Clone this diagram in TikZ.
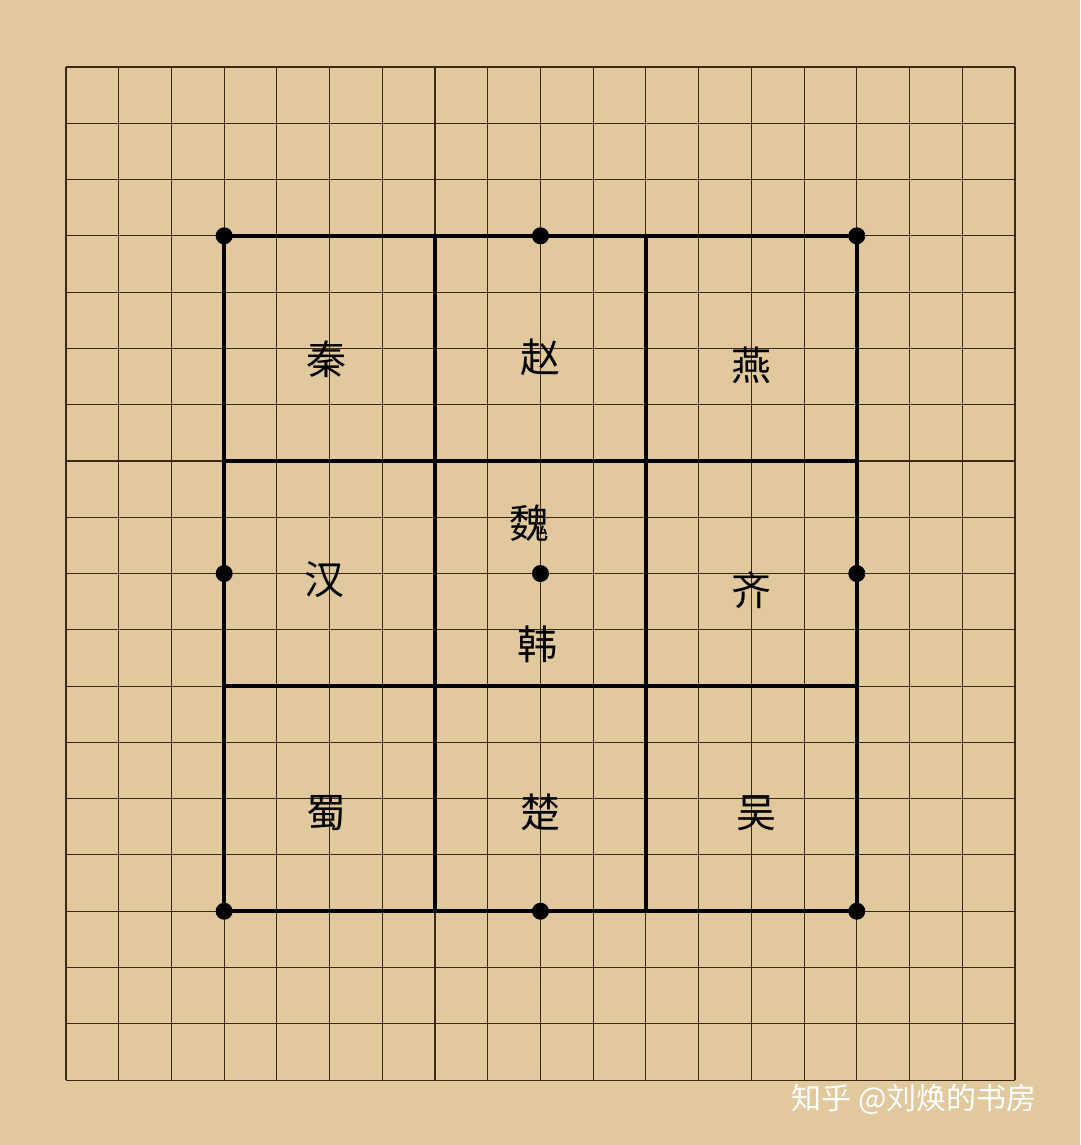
\documentclass[tikz,border=0pt]{standalone}
\usepackage{fontspec}
\newfontfamily\cjk{Noto Sans CJK SC}
\definecolor{board}{HTML}{E2C99D}
\definecolor{gridline}{HTML}{3B2A12}
\begin{document}
\begin{tikzpicture}[x=1pt, y=-1pt,
  state/.style = {font=\cjk\fontsize{40}{40}\selectfont, inner sep=0pt},
  star/.style = {circle, fill=black, inner sep=0pt, minimum size=17pt},
  wall/.style = {line width=4pt, black, line cap=round},
  cell/.style = {gridline, line width=1.1pt}]
\fill[board] (0,0) rectangle (1080,1145);
\useasboundingbox (0,0) rectangle (1080,1145);
\begin{scope}[shift={(66,67)}, x=52.72pt, y=-56.28pt]
% the 19x19 board
\foreach \i in {0,...,18} {
  \draw[cell] (\i,0) -- (\i,18);
  \draw[cell] (0,\i) -- (18,\i);
}
% nine states
\draw[wall] (3,3) rectangle (15,15);
\draw[wall] (7,3) -- (7,15);
\draw[wall] (11,3) -- (11,15);
\draw[wall] (3,7) -- (15,7);
\draw[wall] (3,11) -- (15,11);
\foreach \c in {3,9,15}
  \foreach \r in {3,9,15}
    \node[star] (s\c-\r) at (\c,\r) {};
\node[state] (qin) at (4.95,5.2) {秦};
\node[state] (zhao) at (9,5.15) {赵};
\node[state] (yan) at (13,5.3) {燕};
\node[state] (han1) at (4.9,9.1) {汉};
\node[state] (wei) at (8.8,8.1) {魏};
\node[state] (han2) at (8.95,10.25) {韩};
\node[state] (qi) at (13,9.3) {齐};
\node[state] (shu) at (4.95,13.25) {蜀};
\node[state] (chu) at (9,13.25) {楚};
\node[state] (wu) at (13.1,13.25) {吴};
\end{scope}
% watermark
\node[anchor=west, font=\cjk\fontsize{30}{30}\selectfont, text=white] (mark) at (788,1099) {知乎 @刘焕的书房};
\end{tikzpicture}
\end{document}
